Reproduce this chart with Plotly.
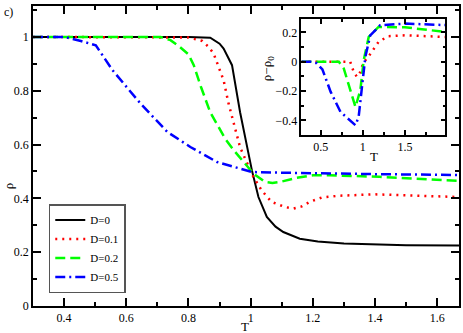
import plotly.graph_objects as go

# main panel: rho vs T
T_d0 = [0.3, 0.8, 0.87, 0.9, 0.913, 0.94, 0.966, 0.986, 1.004, 1.025, 1.052, 1.08, 1.105, 1.158, 1.216, 1.3, 1.4, 1.5, 1.67]
rho_d0 = [1.0, 1.0, 0.997, 0.975, 0.957, 0.895, 0.72, 0.6, 0.504, 0.405, 0.331, 0.295, 0.275, 0.25, 0.24, 0.232, 0.228, 0.226, 0.225]

T_d01 = [0.3, 0.8, 0.844, 0.865, 0.881, 0.897, 0.913, 0.929, 0.95, 0.966, 0.987, 1.008, 1.035, 1.067, 1.11, 1.137, 1.164, 1.19, 1.228, 1.286, 1.4, 1.53, 1.67]
rho_d01 = [1.0, 0.998, 0.985, 0.963, 0.938, 0.889, 0.839, 0.752, 0.665, 0.59, 0.535, 0.482, 0.43, 0.387, 0.368, 0.362, 0.37, 0.387, 0.403, 0.41, 0.415, 0.409, 0.405]

T_d02 = [0.3, 0.71, 0.742, 0.77, 0.8, 0.817, 0.84, 0.87, 0.892, 0.918, 0.945, 0.972, 1.009, 1.046, 1.07, 1.094, 1.147, 1.2, 1.254, 1.414, 1.67]
rho_d02 = [1.0, 1.0, 0.988, 0.965, 0.935, 0.895, 0.815, 0.72, 0.675, 0.622, 0.58, 0.542, 0.492, 0.461, 0.457, 0.461, 0.476, 0.486, 0.486, 0.48, 0.465]

T_d05 = [0.3, 0.4, 0.454, 0.502, 0.556, 0.646, 0.732, 0.806, 0.892, 0.956, 1.004, 1.073, 1.222, 1.4, 1.67]
rho_d05 = [1.0, 1.0, 0.985, 0.969, 0.876, 0.752, 0.647, 0.591, 0.535, 0.513, 0.498, 0.496, 0.492, 0.49, 0.487]

# inset: rho - rho0
Ti_d01 = [0.27, 0.75, 0.85, 0.892, 0.93, 0.97, 1.01, 1.05, 1.107, 1.186, 1.3, 1.5, 1.98]
drho_d01 = [0, 0, 0, -0.07, -0.104, -0.07, 0, 0.02, 0.067, 0.135, 0.174, 0.18, 0.169]

Ti_d02 = [0.27, 0.715, 0.774, 0.853, 0.912, 0.97, 1.01, 1.07, 1.186, 1.5, 1.98]
drho_d02 = [0, 0, -0.047, -0.195, -0.309, -0.195, 0.01, 0.169, 0.237, 0.235, 0.203]

Ti_d05 = [0.27, 0.38, 0.45, 0.52, 0.618, 0.735, 0.912, 0.95, 0.99, 1.03, 1.088, 1.206, 1.5, 1.98]
drho_d05 = [0, 0, -0.01, -0.053, -0.206, -0.343, -0.433, -0.377, -0.17, 0.033, 0.18, 0.249, 0.26, 0.25]

fnt = "Liberation Serif"

fig = go.Figure()

fig.add_trace(go.Scatter(x=T_d0, y=rho_d0, mode="lines", name="D=0",
                         line=dict(color="black", width=2)))
fig.add_trace(go.Scatter(x=T_d01, y=rho_d01, mode="lines", name="D=0.1",
                         line=dict(color="#ff0000", width=2.5, dash="2px,5px")))
fig.add_trace(go.Scatter(x=T_d02, y=rho_d02, mode="lines", name="D=0.2",
                         line=dict(color="#00ff00", width=2.5, dash="10px,5px")))
fig.add_trace(go.Scatter(x=T_d05, y=rho_d05, mode="lines", name="D=0.5",
                         line=dict(color="#0000ff", width=2.5, dash="10px,4px,2px,4px")))

fig.add_trace(go.Scatter(x=Ti_d01, y=drho_d01, mode="lines", showlegend=False, xaxis="x2", yaxis="y2",
                         line=dict(color="#ff0000", width=2.5, dash="2px,5px")))
fig.add_trace(go.Scatter(x=Ti_d02, y=drho_d02, mode="lines", showlegend=False, xaxis="x2", yaxis="y2",
                         line=dict(color="#00ff00", width=2.5, dash="10px,5px")))
fig.add_trace(go.Scatter(x=Ti_d05, y=drho_d05, mode="lines", showlegend=False, xaxis="x2", yaxis="y2",
                         line=dict(color="#0000ff", width=2.5, dash="10px,4px,2px,4px")))

ax = dict(showgrid=False, zeroline=False, showline=True, linecolor="black", linewidth=1.5,
          mirror="allticks", ticks="inside", tickcolor="black", ticklen=8, tickwidth=1.5,
          tickfont=dict(family=fnt, size=12, color="black"))

fig.update_layout(
    width=463, height=333,
    margin=dict(l=33, r=2, t=6, b=27),
    paper_bgcolor="white", plot_bgcolor="white",
    font=dict(family=fnt, size=12, color="black"),
    xaxis=dict(ax, range=[0.3, 1.67], dtick=0.2, tick0=0,
               minor=dict(dtick=0.1, ticks="inside", ticklen=4, tickwidth=1.5, tickcolor="black")),
    yaxis=dict(ax, range=[0, 1.115], dtick=0.2, tick0=0,
               minor=dict(dtick=0.1, ticks="inside", ticklen=4, tickwidth=1.5, tickcolor="black")),
    xaxis2=dict(ax, domain=[0.63, 0.968], anchor="y2", range=[0.27, 1.98], dtick=0.5, tick0=0,
                ticklen=5, minor=dict(dtick=0.25, ticks="inside", ticklen=3, tickwidth=1.5, tickcolor="black")),
    yaxis2=dict(ax, domain=[0.57, 0.956], anchor="x2", range=[-0.5, 0.29], dtick=0.2, tick0=0,
                ticklen=5, minor=dict(dtick=0.1, ticks="inside", ticklen=3, tickwidth=1.5, tickcolor="black")),
    legend=dict(x=0.037, y=0.34, xanchor="left", yanchor="top",
                bgcolor="white", bordercolor="#555555", borderwidth=1.5,
                font=dict(family=fnt, size=11), tracegroupgap=0, itemwidth=30),
    annotations=[
        dict(text="c)", xref="paper", yref="paper", x=-0.072, y=0.98,
             xanchor="left", yanchor="middle", showarrow=False, font=dict(family=fnt, size=12)),
        dict(text="T", xref="paper", yref="paper", x=0.497, y=-0.068,
             xanchor="center", yanchor="middle", showarrow=False, font=dict(family=fnt, size=13)),
        dict(text="ρ", xref="paper", yref="paper", x=-0.058, y=0.4, textangle=-90,
             xanchor="center", yanchor="middle", showarrow=False, font=dict(family=fnt, size=13)),
        dict(text="T", xref="paper", yref="paper", x=0.8, y=0.497,
             xanchor="center", yanchor="middle", showarrow=False, font=dict(family=fnt, size=13)),
        dict(text="ρ−ρ<sub>0</sub>", xref="paper", yref="paper", x=0.552, y=0.79, textangle=-90,
             xanchor="center", yanchor="middle", showarrow=False, font=dict(family=fnt, size=13)),
    ],
)

# the page body has a default 8px margin; drop it so the figure sits at the window corner
fig.write_html("out.html", config={"displayModeBar": False},
               post_script="document.body.style.margin='0';")
